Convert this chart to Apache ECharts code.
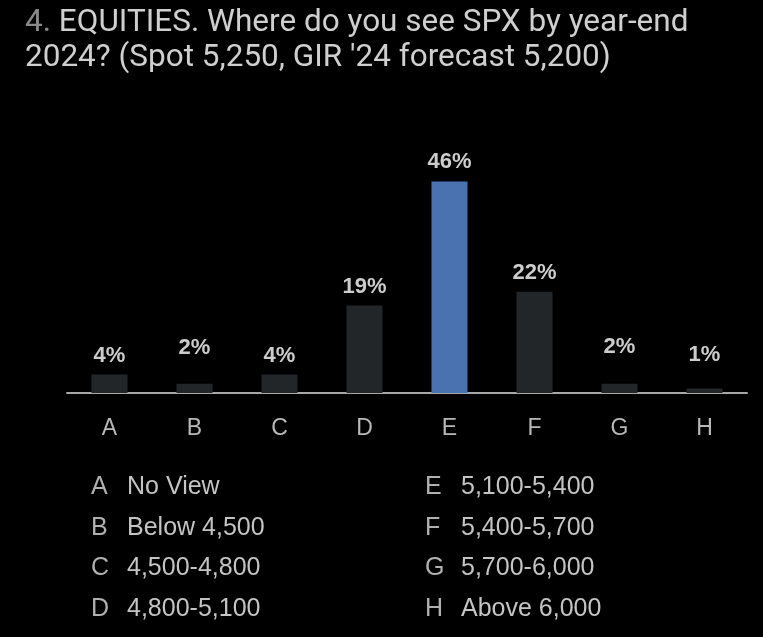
<!DOCTYPE html>
<html><head><meta charset="utf-8">
<script src="https://cdn.jsdelivr.net/npm/echarts@6/dist/echarts.min.js"></script>
<style>html,body{margin:0;padding:0;background:#000;}#c{width:763px;height:637px;}</style>
</head><body><div id="c"></div>
<script>
const categories = ['A','B','C','D','E','F','G','H'];
const values = [4, 2, 4, 19, 46, 22, 2, 1];
const legendLetters = ['A','B','C','D','E','F','G','H'];
const legendTexts = ['No View','Below 4,500','4,500-4,800','4,800-5,100','5,100-5,400','5,400-5,700','5,700-6,000','Above 6,000'];
const highlight = 'E';

// label lift (style only) for the tiny bars, as in the source layout
const labelLift = {B: 17, G: 18, H: 14};

const chart = echarts.init(document.getElementById('c'));
const graphics = [];
legendLetters.forEach((l, i) => {
  const col = Math.floor(i / 4), row = i % 4;
  const x0 = col === 0 ? 91 : 425;
  const y0 = 489 + row * 40.5;
  graphics.push({type:'text', left:x0, top:y0 - 14, style:{text:l, fill:'#b0b0b0', font:'25px "Liberation Sans", Arial'}});
  graphics.push({type:'text', left:x0 + 36, top:y0 - 14, style:{text:legendTexts[i], fill:'#c4c4c4', font:'25px "Liberation Sans", Arial'}});
});

chart.setOption({
  backgroundColor:'#000',
  title:{
    text:'{n|4.} EQUITIES. Where do you see SPX by year-end\n2024? (Spot 5,250, GIR \'24 forecast 5,200)',
    left:20, top:1,
    textStyle:{color:'#cfcfcf', fontFamily:'Roboto', fontSize:31.5, fontWeight:'normal', lineHeight:35,
      rich:{n:{color:'#8a8a8a', fontFamily:'Roboto', fontSize:31.5, lineHeight:35}}}
  },
  grid:{left:67, right:16, top:163, bottom:244},
  xAxis:{type:'category', data:categories,
    axisLine:{lineStyle:{color:'#a8a8a8', width:2}},
    axisTick:{show:false},
    axisLabel:{color:'#b8b8b8', fontSize:23, fontFamily:'Liberation Sans', margin:24}},
  yAxis:{type:'value', min:0, max:50, show:false, splitLine:{show:false}},
  series:[{type:'bar', barWidth:36,
    data:values.map((v,i)=>({value:v,
      itemStyle:{color: categories[i]===highlight ? '#4a72b0' : '#232628'},
      label:{offset:[0, -(labelLift[categories[i]] || 0)]}})),
    label:{show:true, position:'top', distance:8, formatter:'{c}%', color:'#cccccc', fontSize:22, fontWeight:'bold', fontFamily:'Liberation Sans'}
  }],
  graphic:graphics
});
</script></body></html>
